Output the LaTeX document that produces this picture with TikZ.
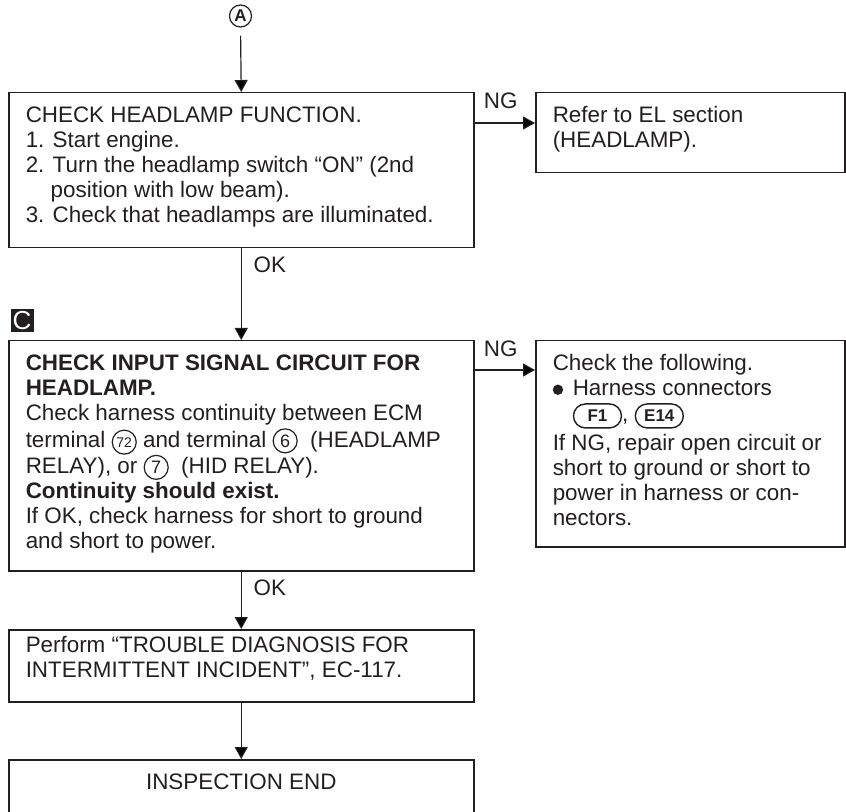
\documentclass[tikz,border=0pt]{standalone}
\usepackage{fontspec}
\setmainfont{Liberation Sans}
\usetikzlibrary{arrows.meta,positioning}
\definecolor{ink}{HTML}{231F20}

\tikzset{
    circno/.style={circle, draw=ink, line width=0.6pt, inner sep=0pt, minimum size=12pt},
    pill/.style={draw=ink, line width=0.7pt, rounded corners=6pt, minimum width=24pt,
        minimum height=12pt, inner sep=0pt, font=\bfseries\fontsize{8.5}{8.5}\selectfont},
}
% circled terminal number, connector tag, bullet
\newcommand{\circno}[2][9pt]{\tikz[baseline=(cn.base)]\node[circno,font=\fontsize{#1}{#1}\selectfont](cn){#2};}
\newcommand{\conn}[1]{\tikz[baseline=(cc.base)]\node[pill](cc){#1};}
\newcommand{\dotmark}{\tikz[baseline=-3pt]\fill[ink] (0,0) circle (2.6pt);}
% box body: width, height, top gap, lines
\newcommand{\boxtext}[5][\raggedright]{\parbox[c][#3][t]{#2}{#1\vspace*{#4}\begin{tabular}[t]{@{}l@{}}#5\end{tabular}}}

\begin{document}
\begin{tikzpicture}[
    x=0.5pt, y=-0.5pt,
    every node/.style={font=\fontsize{11.2}{12.5}\selectfont, text=ink},
    box/.style={draw=ink, line width=0.75pt, anchor=north west, inner xsep=8.5pt, inner ysep=0pt},
    lbl/.style={inner sep=0pt, anchor=base west},
    arr/.style={draw=ink, line width=0.6pt, -{Triangle[length=6pt,width=6.5pt]}},
]
\clip (0,0) rectangle (846,812);

\node[circle, draw=ink, line width=0.6pt, minimum size=11pt, inner sep=0pt,
      font=\bfseries\fontsize{8.5}{8.5}\selectfont] (start) at (240.5,16) {A};

\node[box] (chk) at (8,92) {\boxtext{215.5pt}{77.5pt}{6.25pt}{%
  CHECK HEADLAMP FUNCTION.\\
  1. Start engine.\\
  2. Turn the headlamp switch “ON” (2nd\\
  \hspace*{12.5pt}position with low beam).\\
  3. Check that headlamps are illuminated.}};

\node[box] (ref) at (535,92) {\boxtext{137.5pt}{40pt}{6.25pt}{%
  Refer to EL section\\
  (HEADLAMP).}};

\node[fill=ink, text=white, minimum size=11.5pt, inner sep=0pt,
      font=\fontsize{13}{13}\selectfont] (tagC) at (22,320.5) {C};

\node[box] (sig) at (8,340) {\boxtext{215.5pt}{115pt}{6.25pt}{%
  \textbf{CHECK INPUT SIGNAL CIRCUIT FOR}\\
  \textbf{HEADLAMP.}\\
  Check harness continuity between ECM\\
  terminal \circno[7pt]{72} and terminal \circno{6}\ \ (HEADLAMP\\
  RELAY), or \circno{7}\ \ (HID RELAY).\\
  \textbf{Continuity should exist.}\\
  If OK, check harness for short to ground\\
  and short to power.}};

\node[box] (fol) at (535,340) {\boxtext{137.5pt}{103pt}{6.25pt}{%
  Check the following.\\
  \makebox[10pt][l]{\dotmark}Harness connectors\\
  \hspace*{10pt}\conn{F1}, \conn{E14}\\[2pt]
  If NG, repair open circuit or\\
  short to ground or short to\\
  power in harness or con-\\
  nectors.}};

\node[box] (trb) at (8,629) {\boxtext{215.5pt}{36pt}{2.75pt}{%
  Perform “TROUBLE DIAGNOSIS FOR\\
  INTERMITTENT INCIDENT”, EC-117.}};

\node[box] (fin) at (8,759) {\boxtext[\centering]{215.5pt}{50pt}{6.25pt}{INSPECTION END}};

% connectors
\draw[arr, shorten <=4pt] (start.south) -- (chk.north);
\draw[arr] ([yshift=-15.5pt]chk.north east) -- ([yshift=-15.5pt]ref.north west);
\node[lbl] (ng1) at ([xshift=4.5pt,yshift=-8.5pt]chk.north east) {NG};
\draw[arr] (chk.south) -- (sig.north);
\node[lbl] (ok1) at ([xshift=6pt,yshift=-12pt]chk.south) {OK};
\draw[arr] ([yshift=-15pt]sig.north east) -- ([yshift=-15pt]fol.north west);
\node[lbl] (ng2) at ([xshift=4.5pt,yshift=-8.5pt]sig.north east) {NG};
\draw[arr] (sig.south) -- (trb.north);
\node[lbl] (ok2) at ([xshift=6pt,yshift=-12pt]sig.south) {OK};
\draw[arr] (trb.south) -- (fin.north);
\end{tikzpicture}
\end{document}
